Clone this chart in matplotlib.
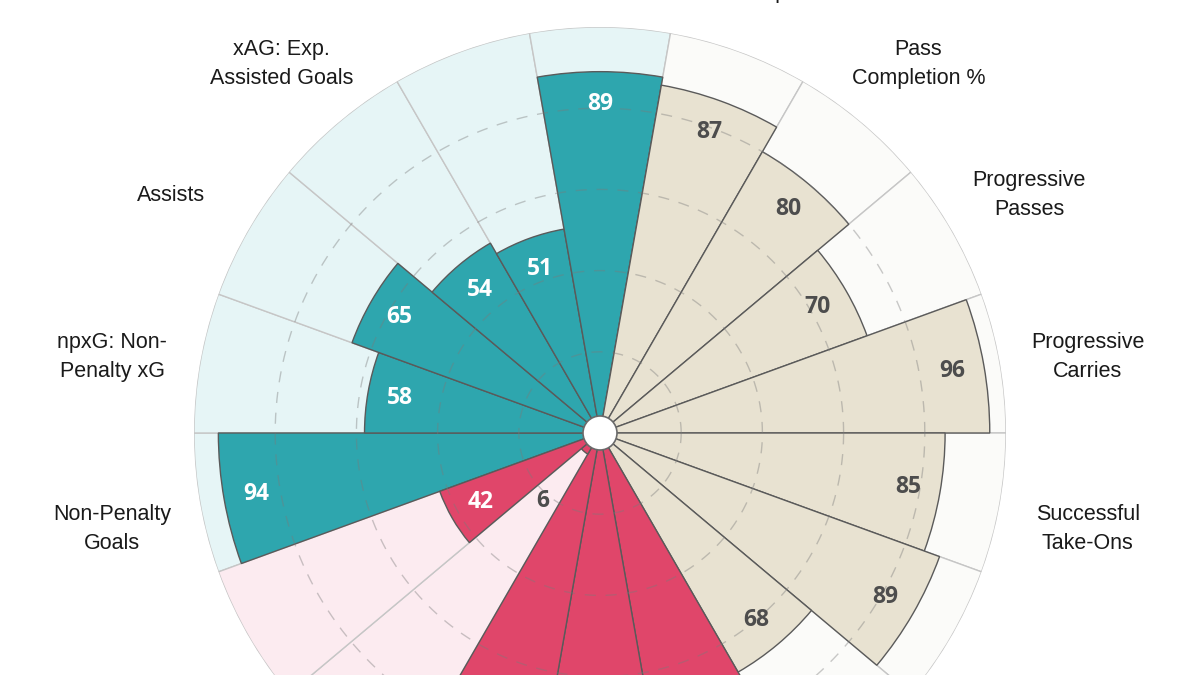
import numpy as np
import matplotlib
matplotlib.use("Agg")
import matplotlib.pyplot as plt
import matplotlib.transforms as mtransforms
from matplotlib.patches import Circle

# params go clockwise on screen, starting just below the left horizontal
params = [
    "Non-Penalty\nGoals", "npxG: Non-\nPenalty xG", "Assists", "xAG: Exp.\nAssisted Goals",
    "npxG + xAG", "Shot-Creating\nActions", "Passes\nAttempted", "Pass\nCompletion %",
    "Progressive\nPasses", "Progressive\nCarries", "Successful\nTake-Ons", "Touches (Att Pen)",
    "Progressive\nPasses Rec", "Tackles", "Interceptions", "Blocks", "Clearances", "Aerials Won",
]
values = [94, 58, 65, 54, 51, 89, 87, 80, 70, 96, 85, 89, 68, 80, 84, 81, 6, 42]
groups = ["att"] * 6 + ["pos"] * 7 + ["def"] * 5

bar_colors = {"att": "#2ea6ae", "pos": "#e8e2d1", "def": "#e0466a"}
bg_colors = {"att": "#e6f5f6", "pos": "#fbfbf9", "def": "#fcebf0"}
txt_colors = {"att": "white", "pos": "#4d4d4d", "def": "white"}

n = len(params)
width = 2 * np.pi / n
# first slice centred at 190 deg, then clockwise
theta = np.deg2rad(190 - 20 * np.arange(n))

fig = plt.figure(figsize=(12, 6.75), dpi=100)
# centre at (600, 433) px, radius 406 px for value 100
ax = fig.add_axes([194 / 1200, (242 - 406) / 675, 812 / 1200, 812 / 675], projection="polar")
ax.set_ylim(0, 100)
ax.set_xticks([])
ax.set_yticks([])
ax.grid(False)
ax.spines["polar"].set_visible(False)
ax.patch.set_alpha(0)

# background slices
ax.bar(theta, [100] * n, width=width, color=[bg_colors[g] for g in groups],
       edgecolor="#c6c6c6", linewidth=1, zorder=1)
# value slices
ax.bar(theta, values, width=width, color=[bar_colors[g] for g in groups],
       edgecolor="#5a5a5a", linewidth=1, zorder=2)

# dashed rings
ring_t = np.linspace(0, 2 * np.pi, 721)
for r in [20, 40, 60, 80]:
    ax.plot(ring_t, [r] * len(ring_t), color="#7a7a7a", lw=1, ls=(0, (8, 7)),
            alpha=0.4, zorder=3)

# centre circle
ax.add_patch(Circle((0.5, 0.5), 17 / 812, transform=ax.transAxes, facecolor="white",
                    edgecolor="#6a6a6a", lw=1.2, zorder=5))

# value labels
for t, v, g in zip(theta, values, groups):
    if v < 15:
        r, c = v + 16, "#4d4d4d"
    else:
        r, c = v - 8, txt_colors[g]
    ax.text(t, r, str(v), ha="center", va="center", color=c, fontsize=16.5,
            fontweight="bold", family="Open Sans", zorder=6)

# param labels
shift = mtransforms.ScaledTranslation(0, -10 / 100, fig.dpi_scale_trans)
for t, p in zip(theta, params):
    ax.text(t, 122, p, ha="center", va="center", fontsize=15.5, color="#1a1a1a",
            family="Liberation Sans", linespacing=1.5,
            transform=ax.transData + shift, clip_on=False)

fig.savefig("out.png", dpi=100)
